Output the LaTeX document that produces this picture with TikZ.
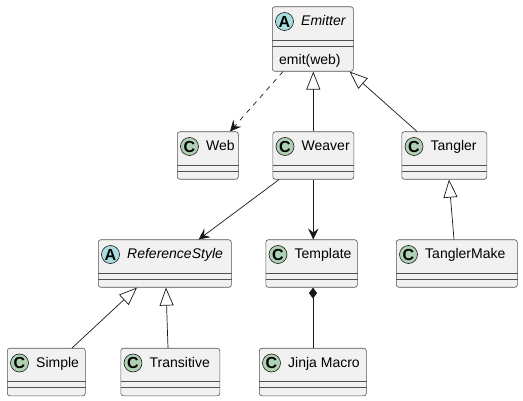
\documentclass[tikz,border=0pt]{standalone}
\usepackage{fontspec}
\setmainfont{Liberation Sans}
\usetikzlibrary{arrows.meta}
\definecolor{boxfill}{HTML}{F1F1F1}
\definecolor{boxline}{HTML}{181818}
\definecolor{colC}{HTML}{ADD1B2}
\definecolor{colA}{HTML}{A9DCDF}
\begin{document}
\begin{tikzpicture}[x=1pt,y=-1pt,font=\fontsize{14}{16}\selectfont,
  classbox/.style={draw=boxline!75,fill=boxfill,line width=0.6pt,rounded corners=2.5pt,inner sep=0pt},
  sepline/.style={draw=boxline!75,line width=0.6pt},
  icon/.style={circle,draw=boxline,line width=0.6pt,fill=#1,minimum size=18pt,inner sep=0pt,font=\fontsize{16}{16}\selectfont\bfseries},
  link/.style={draw=boxline,line width=0.7pt},
  assoc/.style={link,-{Stealth[length=11pt,width=10.5pt,inset=4pt]}},
  dep/.style={assoc,dash pattern=on 5pt off 5pt},
  inherit/.style={link,-{Triangle[open,length=18pt,width=14pt,fill=white]}},
  compose/.style={link,{Diamond[length=11pt,width=8pt]}-}]
\useasboundingbox (0,0) rectangle (523,401);
% classes: name/letter/left/top/width/height/label
\foreach \n/\k/\x/\y/\w/\h/\t in {
  emitter/A/272/6.5/81/64.5/\textit{Emitter},
  web/C/177/131.5/61/47.5/Web,
  weaver/C/272.5/131.5/81/47.5/Weaver,
  tangler/C/401.5/131.5/85/47.5/Tangler,
  refstyle/A/98/239.5/133/47.5/\textit{ReferenceStyle},
  template/C/265.5/239.5/91.5/47.5/Template,
  tanglermake/C/396/239.5/121/47.5/TanglerMake,
  simple/C/7/348/78/47.5/Simple,
  transitive/C/120.5/348/99/47.5/Transitive,
  jinja/C/259/348/107/47.5/Jinja Macro}{
  \node[classbox,minimum width=\w pt,minimum height=\h pt,anchor=north west] (\n) at (\x,\y) {};
  \node[icon=col\k] (\n-icon) at ([xshift=12.5pt,yshift=-15pt]\n.north west) {\k};
  \node[anchor=base west,inner sep=0pt] (\n-label) at ([xshift=29pt,yshift=-19.5pt]\n.north west) {\t};
  \draw[sepline] ([yshift=-33.5pt]\n.north west) -- ([yshift=-33.5pt]\n.north east);
  \draw[sepline] ([yshift=-39.5pt]\n.north west) -- ([yshift=-39.5pt]\n.north east);
}
\node[anchor=base west,inner sep=0pt] (emitter-method) at ([xshift=7pt,yshift=-58.5pt]emitter.north west) {emit(web)};

\draw[dep] ([xshift=11pt]emitter.south west) -- ([xshift=53pt]web.north west);
\draw[inherit] (weaver.north) -- (weaver.north |- emitter.south);
\draw[inherit] ([xshift=15.5pt]tangler.north west) -- ([xshift=-4pt]emitter.south east);
\draw[assoc] ([xshift=6.5pt]weaver.south west) -- ([xshift=-33pt]refstyle.north east);
\draw[assoc] (weaver.south) -- (weaver.south |- template.north);
\draw[inherit] ([xshift=58pt]tanglermake.north west) -- ([xshift=47.5pt]tangler.south west);
\draw[inherit] ([xshift=65pt]simple.north west) -- ([xshift=39pt]refstyle.south west);
\draw[inherit] ([xshift=47.5pt]transitive.north west) -- ([xshift=68pt]refstyle.south west);
\draw[compose] ([xshift=47.5pt]template.south west) -- ([xshift=54pt]jinja.north west);
\end{tikzpicture}
\end{document}
